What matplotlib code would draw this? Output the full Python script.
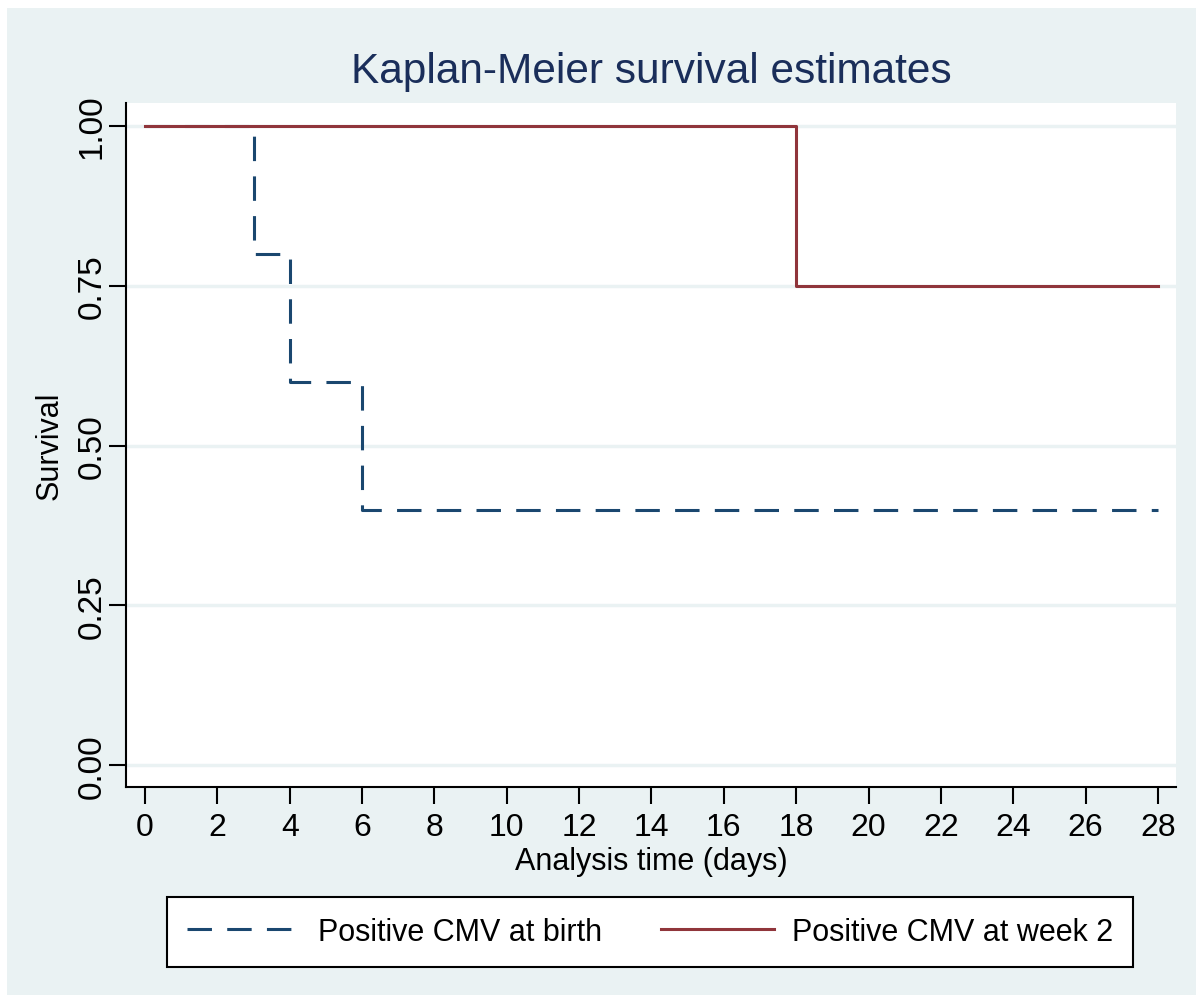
import matplotlib
matplotlib.use('Agg')
import matplotlib.pyplot as plt

# grupos e tempos (dias) das curvas de Kaplan-Meier
tempo_nascimento = [0, 3, 4, 6, 28]
surv_nascimento = [1.0, 0.8, 0.6, 0.4, 0.4]
tempo_semana2 = [0, 18, 28]
surv_semana2 = [1.0, 0.75, 0.75]
rotulos = ['Positive CMV at birth', 'Positive CMV at week 2']

xticks = list(range(0, 29, 2))
yticks = [0.0, 0.25, 0.5, 0.75, 1.0]

plt.rcParams['font.family'] = ['Liberation Sans', 'DejaVu Sans']

fundo = '#EAF2F3'
azul = '#1a476f'
vermelho = '#90353b'

fig = plt.figure(figsize=(12.03, 10.04), dpi=100)
fig.patch.set_facecolor('white')

# faixa azulada em volta do grafico
bg = fig.add_axes([0, 0, 1, 1], zorder=-10)
bg.axis('off')
bg.set_xlim(0, 1)
bg.set_ylim(0, 1)
bg.add_patch(plt.Rectangle((7/1203, 8/1004), 1189/1203, 987/1004,
                           facecolor=fundo, edgecolor='none'))

ax = fig.add_axes([126/1203, 1 - 788/1004, 1050/1203, 684/1004])
ax.set_facecolor('white')

for y in yticks:
    ax.axhline(y, color=fundo, linewidth=2.5, zorder=1)

ax.step(tempo_nascimento, surv_nascimento, where='post', color=azul,
        linewidth=2.2, dashes=(8, 5), label=rotulos[0], zorder=3)
ax.step(tempo_semana2, surv_semana2, where='post', color=vermelho,
        linewidth=2.2, label=rotulos[1], zorder=3)

ax.set_xlim(-0.525, 28.5)
ax.set_ylim(-0.034, 1.036)
ax.set_xticks(xticks)
ax.set_yticks(yticks)
ax.set_yticklabels(['%.2f' % v for v in yticks], rotation=90, va='center')
ax.tick_params(axis='both', length=12, width=1.5, labelsize=23, pad=6, colors='black')
ax.tick_params(axis='y', labelsize=24, pad=1)

for lado in ['top', 'right']:
    ax.spines[lado].set_visible(False)
for lado in ['left', 'bottom']:
    ax.spines[lado].set_linewidth(1.5)

ax.set_xlabel('Analysis time (days)', fontsize=22, labelpad=3)
ax.set_ylabel('Survival', fontsize=22)
ax.yaxis.set_label_coords(-0.058, 0.5)
fig.text(651/1203, 1 - 72/1004, 'Kaplan-Meier survival estimates', fontsize=30.5,
         color='#1a2e5a', ha='center', va='center')

leg = fig.legend(loc='center', bbox_to_anchor=(650/1203, 1 - 933/1004), ncol=2,
                 fontsize=22, frameon=True, fancybox=False, handlelength=3.7,
                 columnspacing=1.9, borderpad=0.65, handletextpad=0.6,
                 framealpha=1)
leg.get_frame().set_edgecolor('black')
leg.get_frame().set_linewidth(1.5)

fig.savefig('out.png', dpi=100, facecolor=fig.get_facecolor())
